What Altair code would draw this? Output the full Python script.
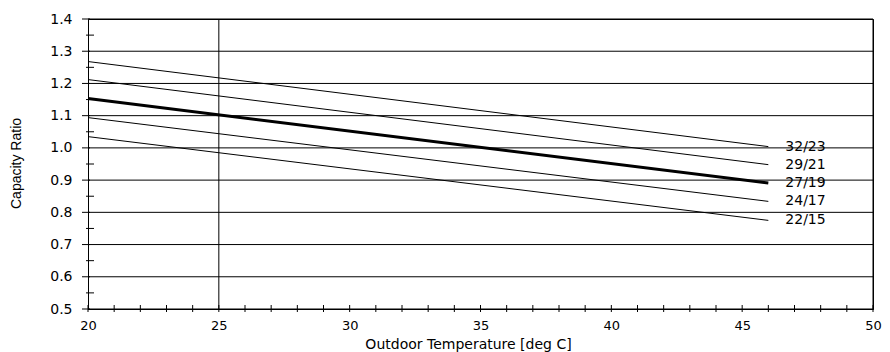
import altair as alt
import pandas as pd

# ---- data ----
series = ["32/23", "29/21", "27/19", "24/17", "22/15"]
x_start = 20
x_end = 46
y_start = [1.268, 1.212, 1.153, 1.094, 1.035]
y_end = [1.004, 0.948, 0.891, 0.834, 0.775]
line_width = [1, 1, 3, 1, 1]

x_major = [20, 25, 30, 35, 40, 45, 50]
x_minor = list(range(20, 51))
y_major = [0.5, 0.6, 0.7, 0.8, 0.9, 1.0, 1.1, 1.2, 1.3, 1.4]
y_minor = [0.55, 0.65, 0.75, 0.85, 0.95, 1.05, 1.15, 1.25, 1.35]
vline_x = [25, 50]   # gridline at 25 and right frame at 50

FONT = "DejaVu Sans"

rows = []
for s, a, b, w in zip(series, y_start, y_end, line_width):
    rows.append({"series": s, "x": x_start, "y": a, "w": w})
    rows.append({"series": s, "x": x_end, "y": b, "w": w})
lines_df = pd.DataFrame(rows)
labels_df = pd.DataFrame({"series": series, "x": [x_end] * len(series), "y": y_end})

x_scale = alt.Scale(domain=[20, 50], nice=False, zero=False)
y_scale = alt.Scale(domain=[0.5, 1.4], nice=False, zero=False)

x_axis = alt.Axis(
    values=x_major, format="d", ticks=False, tickSize=0, grid=False,
    labelOverlap=False, labelFlush=False,
    labelFont=FONT, labelFontSize=13, labelColor="black", labelPadding=10,
    domainColor="black", domainWidth=1,
    title="Outdoor Temperature [deg C]", titleFont=FONT, titleFontSize=14,
    titleFontWeight="normal", titleColor="black",
    titleX=380, titleY=39, titleBaseline="alphabetic",
)
y_axis = alt.Axis(
    values=y_major, format=".1f", ticks=False, tickSize=0,
    labelOverlap=False, labelFlush=False,
    grid=False,
    labelFont=FONT, labelFontSize=14, labelColor="black", labelPadding=16,
    domainColor="black", domainWidth=1,
    title="Capacity Ratio", titleFont="Liberation Sans", titleFontSize=14,
    titleFontWeight="normal", titleColor="black",
    titleAngle=270, titleX=-72, titleY=144, titleAlign="center", titleBaseline="middle",
)


def X():
    return alt.X("x:Q", scale=x_scale, axis=x_axis, title="Outdoor Temperature [deg C]")


def Y():
    return alt.Y("y:Q", scale=y_scale, axis=y_axis, title="Capacity Ratio")


lines = alt.Chart(lines_df).mark_line(color="black").encode(
    x=X(), y=Y(), detail="series:N",
    strokeWidth=alt.StrokeWidth("w:Q", scale=None, legend=None),
)

labels = alt.Chart(labels_df).mark_text(
    align="left", baseline="middle", dx=17, font=FONT, fontSize=14, color="black"
).encode(x=X(), y=Y(), text="series:N")

vline = alt.Chart(pd.DataFrame({"x": vline_x})).mark_rule(color="black", strokeWidth=1).encode(x=X())
hgrid = alt.Chart(pd.DataFrame({"y": y_major})).mark_rule(color="black", strokeWidth=1).encode(y=Y())

ymaj = alt.Chart(pd.DataFrame({"y": y_major})).mark_rule(color="black", strokeWidth=1).encode(
    y=Y(), x=alt.value(-6), x2=alt.value(2)
)
ymin = alt.Chart(pd.DataFrame({"y": y_minor})).mark_rule(color="black", strokeWidth=1).encode(
    y=Y(), x=alt.value(-2), x2=alt.value(6)
)
xtk = alt.Chart(pd.DataFrame({"x": x_minor})).mark_rule(color="black", strokeWidth=1).encode(
    x=X(), y=alt.value(286), y2=alt.value(293)
)

chart = alt.layer(hgrid, vline, lines, labels, ymaj, ymin, xtk).properties(
    width=785,
    height=290,
    autosize=alt.AutoSizeParams(type="none"),
    padding={"left": 80, "top": 11, "right": 9, "bottom": 43},
    background="white",
).configure_view(stroke="black", strokeWidth=1).configure_axis(labelOverlap=False)

chart.save("out.html", embed_options={"renderer": "svg", "actions": False})
